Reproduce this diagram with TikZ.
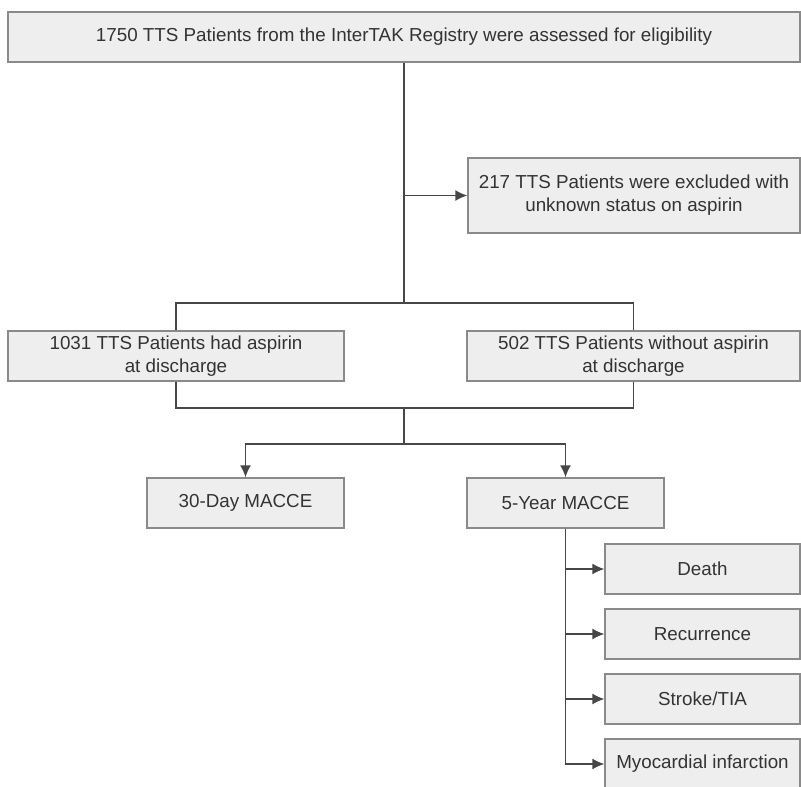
\documentclass[tikz,border=0pt]{standalone}
\usepackage{fontspec}
\setmainfont{Liberation Sans}
\usepackage{tikz}
\usetikzlibrary{arrows.meta,positioning}
\definecolor{boxfill}{HTML}{EEEEEE}
\definecolor{boxline}{HTML}{8A8A8A}
\definecolor{ink}{HTML}{333333}
\tikzset{
  box/.style={draw=boxline,fill=boxfill,line width=1.4pt,text=ink,
    inner sep=0pt,align=center,font=\fontsize{18.8}{23}\selectfont},
  link/.style={draw=ink!90,line width=1.4pt}
}
\tikzstyle{arrow} = [link,-{Latex[length=12pt,width=11pt]}]

\begin{document}
\begin{tikzpicture}[x=1pt,y=-1pt,line cap=butt,line join=miter]
  % ---- drawing window (matches the screenshot range) ----
  \useasboundingbox (0,0) rectangle (801,787);
  \clip (0,0) rectangle (801,787);

  % ---- boxes ----
  \node[box,minimum width=792pt,minimum height=50pt] (assessed) at (404,37)
    {1750 TTS Patients from the InterTAK Registry were assessed for eligibility};
  \node[box,minimum width=332pt,minimum height=75pt] (excluded) at (634,195.5)
    {217 TTS Patients were excluded with\\unknown status on aspirin};

  \node[box,minimum width=336pt,minimum height=50pt] (aspirin) at (176,356)
    {1031 TTS Patients had aspirin\\at discharge};
  \node[box,minimum width=333pt,minimum height=50pt] (noaspirin) at (633.5,356)
    {502 TTS Patients without aspirin\\at discharge};

  \node[box,minimum width=197pt,minimum height=50pt] (day30) at (245.5,503)
    {30-Day MACCE};
  \node[box,minimum width=197pt,minimum height=50pt] (year5) at (565.5,503)
    {5-Year MACCE};

  \node[box,minimum width=195pt,minimum height=50pt] (death) at (702.5,569) {Death};
  \node[box,minimum width=195pt,minimum height=50pt] (recur) at (702.5,634) {Recurrence};
  \node[box,minimum width=195pt,minimum height=50pt] (stroke) at (702.5,699) {Stroke/TIA};
  \node[box,minimum width=195pt,minimum height=50pt] (mi) at (702.5,764) {Myocardial infarction};

  % ---- junctions ----
  \coordinate (split) at (404,303);
  \coordinate (merge) at (404,408);
  \coordinate (fork) at (404,444);

  % ---- connectors ----
  \draw[link] (assessed.south) -- (split);
  \draw[arrow] (assessed.south |- excluded.west) -- (excluded.west);
  \draw[link] (aspirin.north) |- (split) -| (noaspirin.north);
  \draw[link] (aspirin.south) |- (merge) -| (noaspirin.south);
  \draw[link] (merge) -- (fork);
  \draw[arrow] (fork) -| (day30.north);
  \draw[arrow] (fork) -| (year5.north);

  \draw[arrow] (year5.south) |- (death.west);
  \draw[arrow] (year5.south) |- (recur.west);
  \draw[arrow] (year5.south) |- (stroke.west);
  \draw[arrow] (year5.south) |- (mi.west);
\end{tikzpicture}
\end{document}
